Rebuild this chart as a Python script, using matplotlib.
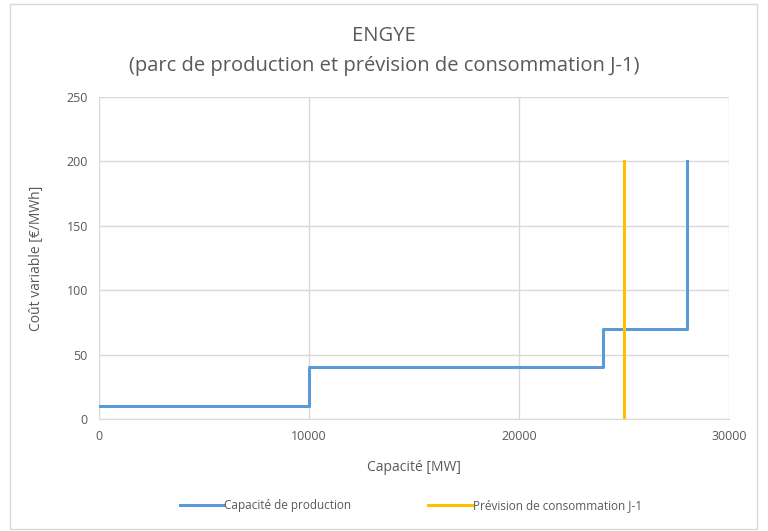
import matplotlib.pyplot as plt
from matplotlib.patches import Rectangle

# merit order of the production fleet (step curve)
capacite_mw = [0, 10000, 10000, 24000, 24000, 28000, 28000]
cout_variable = [10, 10, 40, 40, 70, 70, 200]

# day-ahead consumption forecast
prevision_mw = [25000, 25000]
prevision_cout = [0, 200]

x_ticks = [0, 10000, 20000, 30000]
y_ticks = [0, 50, 100, 150, 200, 250]

plt.rcParams['font.family'] = ['Open Sans', 'DejaVu Sans']
txt = '#595959'
grid = '#D9D9D9'

fig = plt.figure(figsize=(7.68, 5.31), dpi=100)
fig.patches.append(Rectangle((0.013, 0.004), 0.973, 0.988, transform=fig.transFigure,
                             fill=False, edgecolor='#D9D9D9', linewidth=1))
ax = fig.add_axes([0.1289, 0.2109, 0.8203, 0.6064])

ax.plot(capacite_mw, cout_variable, color='#5B9BD5', linewidth=2.2,
        label='Capacité de production')
ax.plot(prevision_mw, prevision_cout, color='#FFC000', linewidth=2.2,
        label='Prévision de consommation J-1')

ax.set_xlim(0, 30000)
ax.set_ylim(0, 250)
ax.set_xticks(x_ticks)
ax.set_yticks(y_ticks)
ax.grid(True, color=grid, linewidth=1)
ax.set_axisbelow(True)
for s in ['top', 'right', 'left']:
    ax.spines[s].set_visible(False)
ax.spines['bottom'].set_color(grid)
ax.tick_params(length=0, labelsize=9, colors=txt, pad=8)

ax.set_xlabel('Capacité [MW]', fontsize=10, color=txt, labelpad=12)
ax.set_ylabel('Coût variable [€/MWh]', fontsize=10, color=txt, labelpad=16)
fig.text(0.5, 0.933, 'ENGYE', ha='center', va='center', fontsize=14.5, color=txt)
fig.text(0.5, 0.876, '(parc de production et prévision de consommation J-1)',
         ha='center', va='center', fontsize=14.5, color=txt)

fig.legend(loc='center', bbox_to_anchor=(0.535, 0.048), ncol=2, frameon=False,
           fontsize=8.5, labelcolor=txt, handlelength=3.8, handletextpad=0,
           columnspacing=6.5)

fig.savefig('out.png', dpi=100)
